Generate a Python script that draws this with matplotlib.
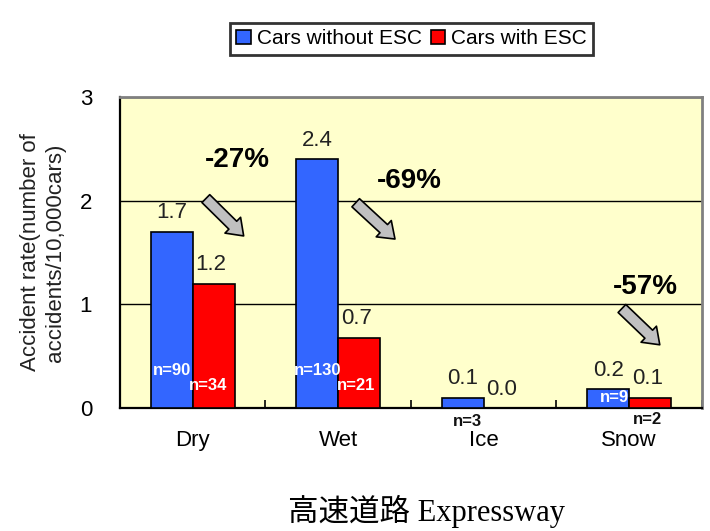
import numpy as np
import matplotlib.pyplot as plt

plt.rcParams['font.family'] = ['Liberation Sans', 'DejaVu Sans']

categories = ['Dry', 'Wet', 'Ice', 'Snow']
without_esc = [1.7, 2.4, 0.1, 0.18]
with_esc = [1.2, 0.68, 0.0, 0.1]
without_labels = ['1.7', '2.4', '0.1', '0.2']
with_labels = ['1.2', '0.7', '0.0', '0.1']
n_without = ['n=90', 'n=130', 'n=3', 'n=9']
n_with = ['n=34', 'n=21', None, 'n=2']
reductions = ['-27%', '-69%', None, '-57%']

x = np.arange(len(categories))
w = 0.29

fig = plt.figure(figsize=(7.1, 5.31), dpi=100)
ax = fig.add_axes([0.169, 0.2316, 0.8197, 0.5857])
ax.set_facecolor('#FFFFCC')

b1 = ax.bar(x - w / 2, without_esc, w, color='#3366FF', edgecolor='black', linewidth=1.2,
            label='Cars without ESC', zorder=3)
b2 = ax.bar(x + w / 2, with_esc, w, color='#FF0000', edgecolor='black', linewidth=1.2,
            label='Cars with ESC', zorder=3)
for i in range(len(x)):
    if with_esc[i] == 0:
        b2[i].set_visible(False)

# value labels
for i in range(len(x)):
    ax.annotate(without_labels[i], (x[i] - w / 2, without_esc[i]), xytext=(0, 6),
                textcoords='offset points', ha='center', va='bottom', fontsize=16, color='#222222')
    ax.annotate(with_labels[i], (x[i] + w / 2, with_esc[i]), xytext=(-2, 6),
                textcoords='offset points', ha='center', va='bottom', fontsize=16, color='#222222')

# n labels
nkw = dict(ha='center', va='center', fontsize=12, fontweight='bold', zorder=4)
ax.text(x[0] - w / 2, 0.36, n_without[0], color='white', **nkw)
ax.text(x[0] + w / 2 - 0.04, 0.22, n_with[0], color='white', **nkw)
ax.text(x[1] - w / 2, 0.36, n_without[1], color='white', **nkw)
ax.text(x[1] + w / 2 - 0.02, 0.22, n_with[1], color='white', **nkw)
ax.text(x[2] - w / 2 + 0.03, -0.13, n_without[2], color='#111111', clip_on=False, **nkw)
ax.text(x[3] - w / 2 + 0.04, 0.105, n_without[3], color='white', **nkw)
ax.text(x[3] + w / 2 - 0.02, -0.11, n_with[3], color='#111111', clip_on=False, **nkw)

# reduction labels and arrows
pct_pos = {0: (0.31, 2.39), 1: (1.49, 2.19), 3: (3.11, 1.17)}
arrow_pos = {0: ((0.09, 2.02), (0.35, 1.66)),
             1: ((1.12, 1.98), (1.39, 1.63)),
             3: ((2.95, 0.96), (3.21, 0.61))}
for i, txt in enumerate(reductions):
    if txt is None:
        continue
    ax.text(pct_pos[i][0], pct_pos[i][1], txt, ha='center', va='center', fontsize=20,
            fontweight='bold', color='black', zorder=5)
    tail, head = arrow_pos[i]
    ax.annotate('', xy=head, xytext=tail,
                arrowprops=dict(arrowstyle='simple,head_length=0.55,head_width=0.8,tail_width=0.4',
                                mutation_scale=20, facecolor='#C0C0C0', edgecolor='black',
                                linewidth=1.2, shrinkA=0, shrinkB=0), zorder=5)

ax.set_xlim(-0.5, 3.5)
ax.set_ylim(0, 3)
ax.set_yticks([0, 1, 2, 3])
ax.yaxis.grid(True, color='black', linewidth=1.0, zorder=1)
ax.tick_params(axis='y', length=0, pad=20, labelsize=16)

ax.set_xticks(np.arange(-0.5, 4.0, 1.0))
ax.set_xticklabels([])
ax.tick_params(axis='x', which='major', direction='in', length=6, width=1.2)
ax.set_xticks(x, minor=True)
ax.set_xticklabels(categories, minor=True, fontsize=16)
ax.tick_params(axis='x', which='minor', length=0, pad=16)

for s in ['left', 'bottom']:
    ax.spines[s].set_color('black')
    ax.spines[s].set_linewidth(1.6)
for s in ['top', 'right']:
    ax.spines[s].set_color('#808080')
    ax.spines[s].set_linewidth(2.0)

ax.set_ylabel('Accident rate(number of\naccidents/10,000cars)', fontsize=16, color='#222222',
              linespacing=1.3)
ax.yaxis.set_label_coords(-0.092, 0.5)

fig.text(0.6, 0.036, '高速道路 Expressway', ha='center', va='center', fontsize=22,
         family=['Liberation Serif', 'Noto Sans CJK JP'])

leg = fig.legend(handles=[b1, b2], loc='center', bbox_to_anchor=(0.58, 0.927), ncol=2,
                 fontsize=15, frameon=True, fancybox=False, edgecolor='black',
                 handlelength=0.7, handleheight=0.7, handletextpad=0.3, columnspacing=0.4,
                 borderpad=0.3, borderaxespad=0)
leg.get_frame().set_linewidth(2.0)

fig.savefig('out.png', dpi=100)
